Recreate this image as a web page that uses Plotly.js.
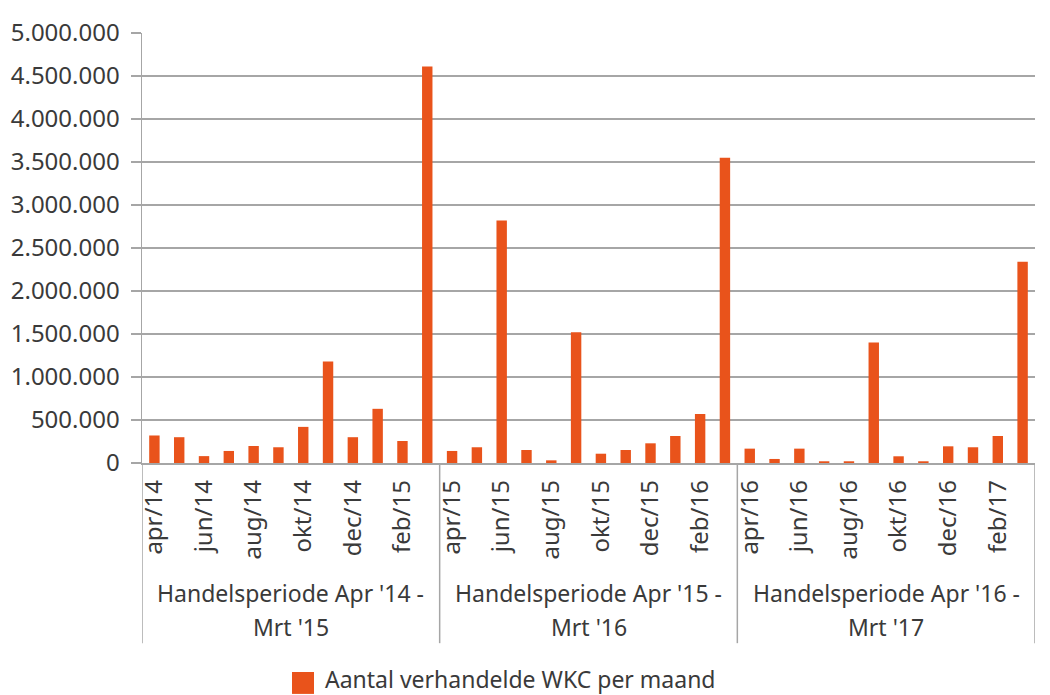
<!DOCTYPE html>
<html>
<head>
<meta charset="utf-8">
<script src="https://cdn.plot.ly/plotly-3.0.1.min.js"></script>
<style>
  html, body { margin: 0; padding: 0; background: #ffffff; }
  #chart { width: 1050px; height: 695px; }
</style>
</head>
<body>
<div id="chart"></div>
<script>
// Monthly months (36), three trading periods of 12 months each
const months = [
  "apr/14","mei/14","jun/14","jul/14","aug/14","sep/14","okt/14","nov/14","dec/14","jan/15","feb/15","mrt/15",
  "apr/15","mei/15","jun/15","jul/15","aug/15","sep/15","okt/15","nov/15","dec/15","jan/16","feb/16","mrt/16",
  "apr/16","mei/16","jun/16","jul/16","aug/16","sep/16","okt/16","nov/16","dec/16","jan/17","feb/17","mrt/17"
];

// Number of traded WKC per month
const tradedWkc = [
  320000, 300000, 80000, 140000, 198000, 183000, 420000, 1180000, 300000, 630000, 256000, 4610000,
  140000, 183000, 2820000, 151000, 31000, 1520000, 108000, 151000, 229000, 314000, 570000, 3550000,
  167000, 47000, 167000, 20000, 20000, 1400000, 78000, 20000, 194000, 183000, 314000, 2340000
];

// Trading period labels (two lines each)
const periodLine1 = ["Handelsperiode Apr '14 -", "Handelsperiode Apr '15 -", "Handelsperiode Apr '16 -"];
const periodLine2 = ["Mrt '15", "Mrt '16", "Mrt '17"];

const seriesName = "Aantal verhandelde WKC per maand";

const barColor = "#E9531B";
const gridColor = "#a6a6a6";
const textColor = "#3a3a3a";
const fontFamily = "Noto Sans, Open Sans, sans-serif";

// Show every other month on the axis
const shownTicks = months.filter((m, i) => i % 2 === 0);

const trace = {
  type: "bar",
  x: months,
  y: tradedWkc,
  name: seriesName,
  marker: { color: barColor },
  hoverinfo: "x+y"
};

const periodSize = 12;
const nPeriods = periodLine1.length;

const shapes = [];
const annotations = [];

// Vertical separators between the trading periods, below the axis
for (let p = 0; p <= nPeriods; p++) {
  const xb = p * periodSize - 0.5;
  shapes.push({
    type: "line", xref: "x", yref: "paper",
    x0: xb, x1: xb, y0: 0, y1: -0.419,
    line: { color: gridColor, width: 1.5 }
  });
}

// Period captions, centred under each block of 12 months
for (let p = 0; p < nPeriods; p++) {
  const xc = p * periodSize + (periodSize - 1) / 2;
  annotations.push({
    xref: "x", yref: "paper", x: xc, y: -0.302,
    text: periodLine1[p], showarrow: false,
    xanchor: "center", yanchor: "middle",
    font: { family: fontFamily, size: 23, color: textColor }
  });
  annotations.push({
    xref: "x", yref: "paper", x: xc, y: -0.381,
    text: periodLine2[p], showarrow: false,
    xanchor: "center", yanchor: "middle",
    font: { family: fontFamily, size: 23, color: textColor }
  });
}

// Legend key: orange square with series name
shapes.push({
  type: "rect", xref: "paper", yref: "paper",
  x0: 0.168, x1: 0.1926, y0: -0.486, y1: -0.537,
  fillcolor: barColor, line: { width: 0 }
});
annotations.push({
  xref: "paper", yref: "paper", x: 0.203, y: -0.503,
  text: seriesName, showarrow: false,
  xanchor: "left", yanchor: "middle",
  font: { family: fontFamily, size: 23, color: textColor }
});

const layout = {
  width: 1050,
  height: 695,
  margin: { l: 142, r: 15, t: 33, b: 232 },
  paper_bgcolor: "#ffffff",
  plot_bgcolor: "#ffffff",
  separators: ",.",
  showlegend: false,
  bargap: 0.58,
  font: { family: fontFamily, size: 24, color: textColor },
  xaxis: {
    type: "category",
    categoryorder: "array",
    categoryarray: months,
    tickmode: "array",
    tickvals: shownTicks,
    ticktext: shownTicks,
    tickangle: -90,
    ticks: "",
    ticklabelstandoff: 6,
    showgrid: false,
    showline: true,
    linecolor: gridColor,
    linewidth: 1.5,
    range: [-0.5, months.length - 0.5],
    tickfont: { family: fontFamily, size: 24, color: textColor },
    fixedrange: true
  },
  yaxis: {
    range: [0, 5000000],
    tick0: 0,
    dtick: 500000,
    tickformat: ",d",
    showgrid: true,
    gridcolor: gridColor,
    gridwidth: 1.5,
    zeroline: false,
    showline: true,
    linecolor: gridColor,
    linewidth: 1.5,
    ticks: "outside",
    ticklen: 10,
    tickcolor: gridColor,
    tickwidth: 1.5,
    ticklabelstandoff: 6,
    tickfont: { family: fontFamily, size: 24, color: textColor },
    fixedrange: true
  },
  shapes: shapes,
  annotations: annotations
};

Plotly.newPlot("chart", [trace], layout, { displayModeBar: false, staticPlot: true });
</script>
</body>
</html>
